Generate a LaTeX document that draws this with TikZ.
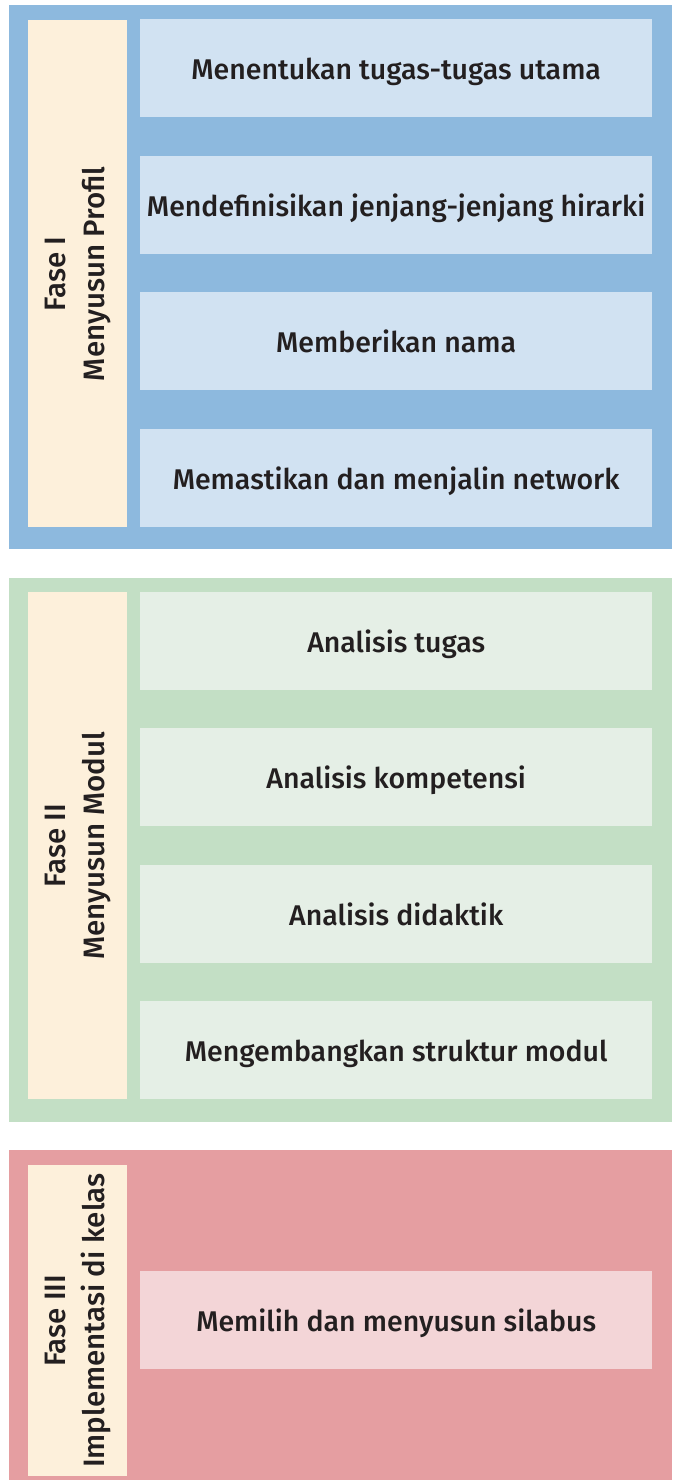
\documentclass[tikz,border=0pt]{standalone}
\usepackage{fontspec}
\setmainfont{Fira Sans}[UprightFont=* Medium, BoldFont=* SemiBold]
\definecolor{txt}{HTML}{231F20}
\definecolor{bluepanel}{HTML}{8DB9DE}
\definecolor{bluebox}{HTML}{D1E2F2}
\definecolor{greenpanel}{HTML}{C3DFC5}
\definecolor{greenbox}{HTML}{E5EFE6}
\definecolor{redpanel}{HTML}{E59EA1}
\definecolor{redbox}{HTML}{F3D5D7}
\definecolor{cream}{HTML}{FDF0DB}
\begin{document}
\begin{tikzpicture}[x=1pt,y=-1pt,
  stepbox/.style={minimum width=512pt,minimum height=98pt,inner sep=0pt,anchor=north west,text=txt,
    text height=27pt,text depth=4pt,font=\fontsize{28.5}{34}\selectfont},
  phasebox/.style={fill=cream,minimum width=99pt,inner sep=0pt,anchor=north west},
  phaselabel/.style={rotate=90,align=center,text=txt,font=\fontsize{29.5}{39}\selectfont}]
\useasboundingbox (0,0) rectangle (673,1480);
% Phase I
\fill[bluepanel] (9,5) rectangle (672,549);
\node[phasebox,minimum height=507pt] (c1) at (28,20) {};
\node[phaselabel] (l1) at (c1.center) {Fase I\\Menyusun Profil};
\node[stepbox,fill=bluebox] (a1) at (140,19) {Menentukan tugas-tugas utama};
\node[stepbox,fill=bluebox] (a2) at (140,155.5) {Mendefinisikan jenjang-jenjang hirarki};
\node[stepbox,fill=bluebox] (a3) at (140,292) {Memberikan nama};
\node[stepbox,fill=bluebox] (a4) at (140,428.5) {Memastikan dan menjalin network};
% Phase II
\fill[greenpanel] (9,578) rectangle (672,1122);
\node[phasebox,minimum height=507pt] (c2) at (28,592) {};
\node[phaselabel] (l2) at (c2.center) {Fase II\\Menyusun Modul};
\node[stepbox,fill=greenbox] (b1) at (140,592) {Analisis tugas};
\node[stepbox,fill=greenbox] (b2) at (140,728) {Analisis kompetensi};
\node[stepbox,fill=greenbox] (b3) at (140,864.5) {Analisis didaktik};
\node[stepbox,fill=greenbox] (b4) at (140,1001) {Mengembangkan struktur modul};
% Phase III
\fill[redpanel] (9,1150) rectangle (672,1480);
\node[phasebox,minimum height=311pt] (c3) at (28,1165) {};
\node[phaselabel] (l3) at (c3.center) {Fase III\\Implementasi di kelas};
\node[stepbox,fill=redbox] (r1) at (140,1271) {Memilih dan menyusun silabus};
\end{tikzpicture}
\end{document}
